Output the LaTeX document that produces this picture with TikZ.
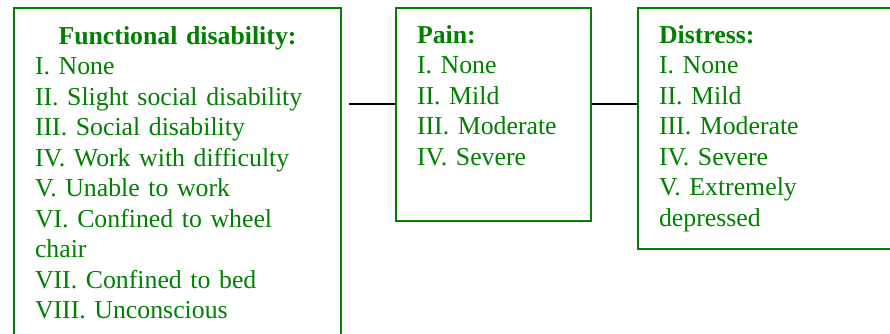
\documentclass[tikz,border=0pt]{standalone}
\usepackage{fontspec}
\setmainfont{Liberation Serif}
\usepackage{tikz}
\definecolor{scalegreen}{RGB}{0,128,0}

\begin{document}
\begin{tikzpicture}
    [   x=1pt, y=1pt,
        box/.style={draw=scalegreen, line width=2pt, text=scalegreen, anchor=north west,
            align=left, inner xsep=21pt, inner ysep=0pt, text width=#1,
            font=\fontsize{25.8}{30.5}\selectfont},
        link/.style={draw=black, line width=2pt},
    ]
        \useasboundingbox (0,0) rectangle (890,333);
        \clip (0,0) rectangle (890,333);

        % draw the boxes
        \node[box=285pt, text height=36pt, text depth=307pt] (disability) at (13,326)
            {{\centering\textbf{Functional disability:}\par}
             I. None\\ II. Slight social disability\\ III. Social disability\\
             IV. Work with difficulty\\ V. Unable to work\\ VI. Confined to wheel\\
             chair\\ VII. Confined to bed\\ VIII. Unconscious};
        \node[box=153pt, text height=35pt, text depth=178pt] (pain) at (395,326)
            {\textbf{Pain:}\\ I. None\\ II. Mild\\ III. Moderate\\ IV. Severe};
        \node[box=240pt, text height=35pt, text depth=206pt] (distress) at (637,326)
            {\textbf{Distress:}\\ I. None\\ II. Mild\\ III. Moderate\\ IV. Severe\\
             V. Extremely\\ depressed};

        % draw the lines
        \coordinate (start) at (349,229);
        \draw[link] (start) -- (start -| pain.west);
        \draw[link] (start -| pain.east) -- (start -| distress.west);
    \end{tikzpicture}
\end{document}
